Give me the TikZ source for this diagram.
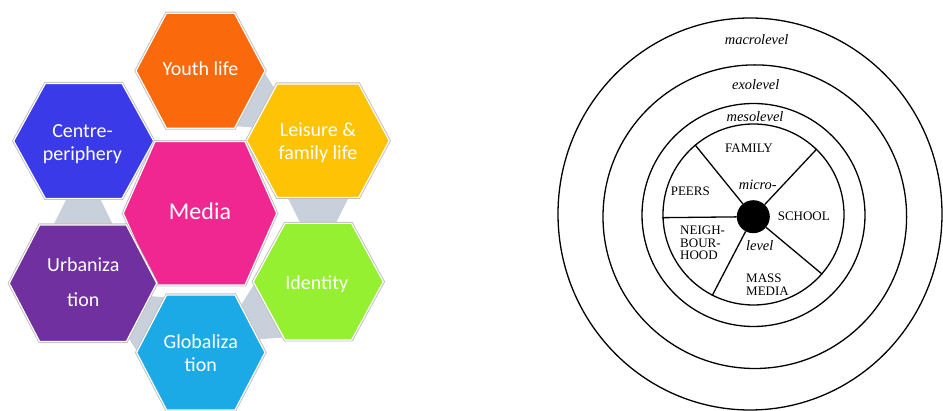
\documentclass[tikz,border=0pt]{standalone}
\usepackage{fontspec}
\newfontfamily\calib{Carlito}
\newfontfamily\tms{Liberation Serif}
\usetikzlibrary{calc,shapes.geometric}
\definecolor{cOrange}{RGB}{250,106,12}
\definecolor{cBlue}{RGB}{58,58,232}
\definecolor{cGold}{RGB}{255,195,5}
\definecolor{cPink}{RGB}{240,38,145}
\definecolor{cPurple}{RGB}{112,48,160}
\definecolor{cGreen}{RGB}{150,240,50}
\definecolor{cCyan}{RGB}{28,170,230}
\definecolor{cLink}{RGB}{200,208,220}
\definecolor{cRim}{RGB}{190,190,190}
\newcommand\hexa[5]{% center name, half width, half height, inset, colour
  \begin{scope}[shift={(#1)}]
    \draw[hexrim] (-#2,0) -- (-#2+#4,-#3) -- (#2-#4,-#3) -- (#2,0) -- (#2-#4,#3) -- (-#2+#4,#3) -- cycle;
    \filldraw[hexbody, fill=#5] (-#2,0) -- (-#2+#4,-#3) -- (#2-#4,-#3) -- (#2,0) -- (#2-#4,#3) -- (-#2+#4,#3) -- cycle;
  \end{scope}}
\newcommand\hexlink[2]{%
  \fill[linkfill] ($(#1)!40pt!(#2)!39pt!90:(#2)$) -- ($(#1)!40pt!(#2)!39pt!-90:(#2)$)
    -- ($(#1)!100pt!(#2)!9pt!-90:(#2)$) -- ($(#1)!100pt!(#2)!9pt!90:(#2)$) -- cycle;}
\begin{document}
\begin{tikzpicture}[x=1pt,y=-1pt,
  hexrim/.style={draw=cRim, line width=3pt, line join=miter},
  hexbody/.style={draw=white, line width=1.2pt, line join=miter},
  linkfill/.style={fill=cLink},
  hext/.style={font=\calib\fontsize{20}{23}\selectfont, text=white, align=center, inner sep=0pt},
  ring/.style={draw, circle, line width=1.3pt, inner sep=0pt},
  spoke/.style={line width=1.3pt},
  lvl/.style={font=\tms\itshape\fontsize{14.4}{16}\selectfont, inner sep=0pt},
  capt/.style={font=\tms\fontsize{13}{12.8}\selectfont, inner sep=0pt, align=left}]
\useasboundingbox (0,0) rectangle (943,411);
% hexagon centres
\coordinate (youth) at (200.5,70.7);
\coordinate (centre) at (83.7,141);
\coordinate (leisure) at (318,140.7);
\coordinate (media) at (200,213.3);
\coordinate (urban) at (83,283.3);
\coordinate (ident) at (318.3,281.7);
\coordinate (glob) at (200.8,352.5);
% connectors behind the hexagons
\hexlink{youth}{leisure}
\hexlink{leisure}{ident}
\hexlink{ident}{glob}
\hexlink{glob}{urban}
\hexlink{urban}{centre}
% hexagons
\hexa{youth}{64.5}{57.5}{30.5}{cOrange}
\hexa{centre}{70}{57.5}{31.7}{cBlue}
\hexa{leisure}{71.3}{56.7}{30.5}{cGold}
\hexa{media}{76.7}{71.7}{31.7}{cPink}
\hexa{urban}{73.7}{58.3}{30.4}{cPurple}
\hexa{ident}{65}{58.3}{31.7}{cGreen}
\hexa{glob}{64.2}{57.5}{30}{cCyan}
% hexagon texts (base anchor = baseline of the last line)
\node[hext, anchor=base] (youthT) at (200.5,76) {Youth life};
\node[hext, anchor=base] (centreT) at (82.5,160.7) {Centre-\\periphery};
\node[hext, anchor=base] (leisureT) at (318,159.3) {Leisure \&\\family life};
\node[hext, anchor=base, font=\calib\fontsize{24}{28}\selectfont] (mediaT) at (200,220) {Media};
\node[hext, anchor=base] (urbanT) at (83.3,306.7) {Urbaniza\\[12pt]tion};
\node[hext, anchor=base] (identT) at (316.7,290) {Identity};
\node[hext, anchor=base] (globT) at (200.8,371.7) {Globaliza\\tion};
% ecological circles
\node[draw, ellipse, line width=1.3pt, inner sep=0pt, minimum width=384pt, minimum height=392pt] (macroC) at (750,214) {};
\node[ring, minimum size=303.6pt] (exoC) at (754.8,216.7) {};
\node[ring, minimum size=223pt] (mesoC) at (753.5,215) {};
\node[ring, minimum size=181pt] (micro) at (753.5,214.5) {};
\node[circle, fill=black, inner sep=0pt, minimum size=33pt] (hub) at (753.3,216.7) {};
\draw[spoke] (hub) -- (micro.182);
\draw[spoke] (hub) -- (micro.130);
\draw[spoke] (hub) -- (micro.46);
\draw[spoke] (hub) -- (micro.-41);
\draw[spoke] (hub) -- (micro.-117);
% labels
\node[lvl, anchor=base] (macroL) at (756.7,45) {macrolevel};
\node[lvl, anchor=base] (exoL) at (755.7,89.3) {exolevel};
\node[lvl, anchor=base] (mesoL) at (755,121.7) {mesolevel};
\node[lvl, anchor=base] (microL) at (757.8,189.3) {micro-};
\node[lvl, anchor=base] (levelL) at (759.7,250.7) {level};
\node[capt, anchor=base] (family) at (749,152.3) {FAMILY};
\node[capt, anchor=base] (peers) at (690.3,196) {PEERS};
\node[capt, anchor=base] (school) at (803.8,220.7) {SCHOOL};
\node[capt, anchor=base west] (neigh) at (680,260) {NEIGH-\\BOUR-\\HOOD};
\node[capt, anchor=base west] (mass) at (746,295.7) {MASS\\MEDIA};
\end{tikzpicture}
\end{document}
